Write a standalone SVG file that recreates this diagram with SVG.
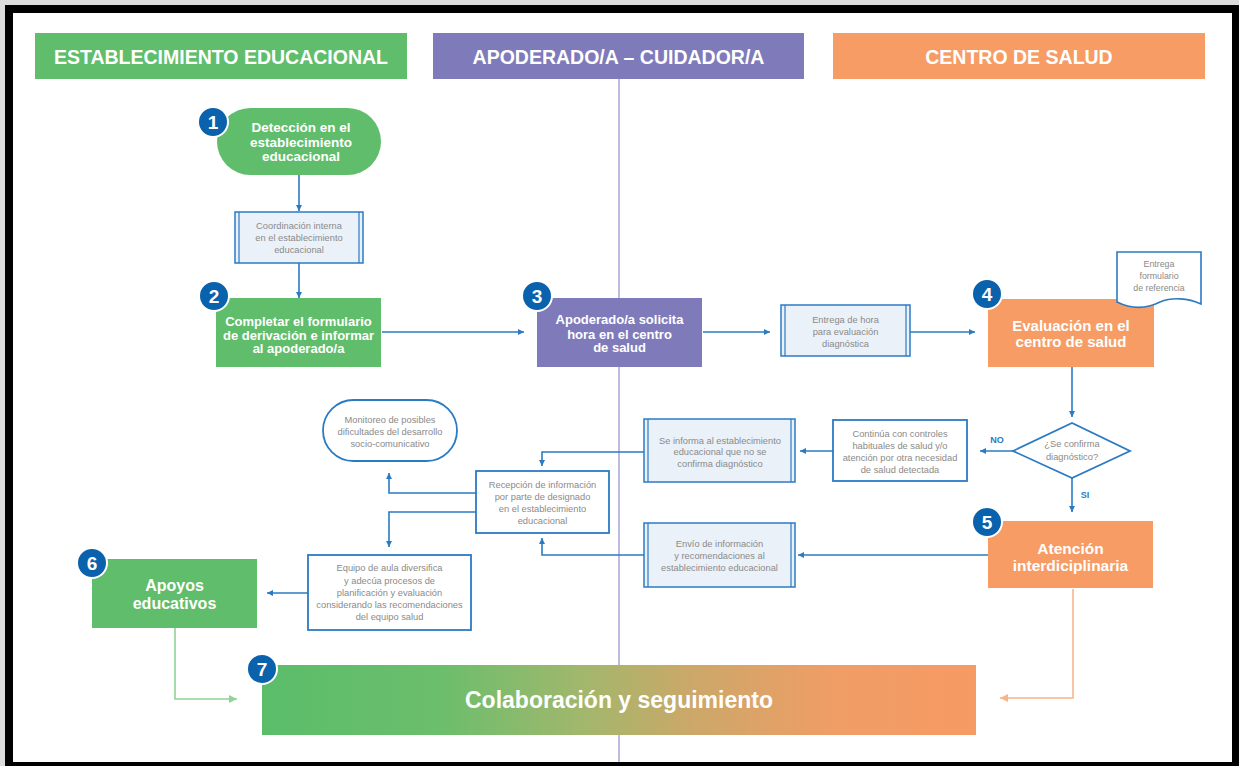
<svg xmlns="http://www.w3.org/2000/svg" width="1239" height="766" viewBox="0 0 1239 766">
<defs>
<style>
.hdr{font-family:"Liberation Sans",Arial,sans-serif;font-weight:bold;font-size:19.5px;fill:#fff;text-anchor:middle}
.nt{font-family:"Liberation Sans",Arial,sans-serif;font-weight:bold;font-size:13px;fill:#fff;text-anchor:middle}
.nt2{font-family:"Liberation Sans",Arial,sans-serif;font-weight:bold;font-size:15.5px;fill:#fff;text-anchor:middle}
.st{font-family:"Liberation Sans",Arial,sans-serif;font-size:9.3px;fill:#8a8a8a;text-anchor:middle}
.lbl{font-family:"Liberation Sans",Arial,sans-serif;font-weight:bold;font-size:9px;fill:#2B7BC3;text-anchor:middle}
.bn{font-family:"Liberation Sans",Arial,sans-serif;font-weight:bold;font-size:19px;fill:#fff;text-anchor:middle}
.badge{fill:#0A62AD;stroke:#fff;stroke-width:2}
.pp{fill:#EAF1F9;stroke:#2B7BC3;stroke-width:1.5}
.ppl{stroke:#2B7BC3;stroke-width:1.2;fill:none}
.bx{fill:#fff;stroke:#2B7BC3;stroke-width:1.8}
.con{fill:none;stroke:#2B7BC3;stroke-width:1.6;marker-end:url(#ab)}
.green{fill:#5FBD6B}
.purple{fill:#7F7BBB}
.orange{fill:#F79C65}
</style>
<marker id="ab" markerUnits="userSpaceOnUse" markerWidth="7" markerHeight="7" refX="6" refY="3" orient="auto"><path d="M0,0 L6,3 L0,6 Z" fill="#2B7BC3"/></marker>
<marker id="ag" markerUnits="userSpaceOnUse" markerWidth="9" markerHeight="9" refX="8" refY="4" orient="auto"><path d="M0,0 L8,4 L0,8 Z" fill="#8FD495"/></marker>
<marker id="ao" markerUnits="userSpaceOnUse" markerWidth="9" markerHeight="9" refX="8" refY="4" orient="auto"><path d="M0,0 L8,4 L0,8 Z" fill="#F9B48F"/></marker>
<linearGradient id="grad" x1="0" y1="0" x2="1" y2="0">
<stop offset="0" stop-color="#5BBD6A"/>
<stop offset="0.25" stop-color="#6BBE6C"/>
<stop offset="0.45" stop-color="#A2B76C"/>
<stop offset="0.6" stop-color="#CBA869"/>
<stop offset="0.8" stop-color="#F09D66"/>
<stop offset="1" stop-color="#F79A64"/>
</linearGradient>
</defs>

<rect x="0" y="0" width="1239" height="766" fill="#dcdcdc"/>
<rect x="5" y="5" width="1234" height="761" fill="#000"/>
<rect x="13" y="13" width="1219" height="749" fill="#fff"/>

<g id="lanes">
<rect x="35" y="33" width="372" height="46" class="green"/>
<text x="221" y="63.5" class="hdr">ESTABLECIMIENTO EDUCACIONAL</text>
<rect x="433" y="33" width="371" height="46" class="purple"/>
<text x="618.5" y="63.5" class="hdr">APODERADO/A – CUIDADOR/A</text>
<rect x="833" y="33" width="372" height="46" class="orange"/>
<text x="1019" y="63.5" class="hdr">CENTRO DE SALUD</text>
<line x1="619" y1="79" x2="619" y2="762" stroke="#A9A5D8" stroke-width="1.5"/>
</g>

<g id="connectors">
<path class="con" d="M299,175 V211"/>
<path class="con" d="M299,263 V298"/>
<path class="con" d="M382,332 H524"/>
<path class="con" d="M703,332 H770"/>
<path class="con" d="M910,332 H975"/>
<path class="con" d="M1072,367 V417"/>
<path class="con" d="M1013,451 H980"/>
<path class="con" d="M833,451 H800"/>
<path class="con" d="M644,452 H542 V466"/>
<path class="con" d="M476,493 H389 V473"/>
<path class="con" d="M476,512 H389 V547"/>
<path class="con" d="M308,593 H267"/>
<path class="con" d="M1072,478 V512"/>
<path class="con" d="M988,555 H798"/>
<path class="con" d="M644,555 H542 V538"/>
<path d="M175,628 V699 H237" fill="none" stroke="#8FD495" stroke-width="1.6" marker-end="url(#ag)"/>
<path d="M1073,589 V698 H1000" fill="none" stroke="#F9B48F" stroke-width="1.6" marker-end="url(#ao)"/>
<text x="997" y="442.5" class="lbl">NO</text>
<text x="1085" y="498" class="lbl">SI</text>
</g>

<g id="n1">
<rect x="217" y="108" width="164" height="67" rx="33.5" class="green"/>
<text x="301" y="132" class="nt" style="font-size:13.5px">Detección en el</text>
<text x="301" y="146.5" class="nt" style="font-size:13.5px">establecimiento</text>
<text x="301" y="161" class="nt" style="font-size:13.5px">educacional</text>
<circle cx="213" cy="122" r="15" class="badge"/>
<text x="213" y="129" class="bn">1</text>
</g>

<g id="coord">
<rect x="235" y="212" width="128" height="51" class="pp"/>
<path class="ppl" d="M239,212 V263 M359,212 V263"/>
<text x="299" y="228.5" class="st">Coordinación interna</text>
<text x="299" y="241" class="st">en el establecimiento</text>
<text x="299" y="253" class="st">educacional</text>
</g>

<g id="n2">
<rect x="216" y="298" width="165" height="69" class="green"/>
<text x="298.5" y="325.5" class="nt">Completar el formulario</text>
<text x="298.5" y="339.5" class="nt">de derivación e informar</text>
<text x="298.5" y="353" class="nt">al apoderado/a</text>
<circle cx="214" cy="296" r="15" class="badge"/>
<text x="214" y="303" class="bn">2</text>
</g>

<g id="n3">
<rect x="537" y="298" width="165" height="69" class="purple"/>
<text x="619.5" y="324" class="nt">Apoderado/a solicita</text>
<text x="619.5" y="338.5" class="nt">hora en el centro</text>
<text x="619.5" y="352" class="nt">de salud</text>
<circle cx="537" cy="296" r="15" class="badge"/>
<text x="537" y="303" class="bn">3</text>
</g>

<g id="hora">
<rect x="781" y="305" width="129" height="51" class="pp"/>
<path class="ppl" d="M785,305 V356 M906,305 V356"/>
<text x="845.5" y="323" class="st">Entrega de hora</text>
<text x="845.5" y="335" class="st">para evaluación</text>
<text x="845.5" y="346.5" class="st">diagnóstica</text>
</g>

<g id="n4">
<rect x="988" y="299" width="166" height="68" class="orange"/>
<text x="1071" y="331" class="nt2" style="font-size:15px">Evaluación en el</text>
<text x="1071" y="346.5" class="nt2" style="font-size:15px">centro de salud</text>
<circle cx="987" cy="294" r="15" class="badge"/>
<text x="987" y="301" class="bn">4</text>
</g>

<g id="doc">
<path d="M1117,252 H1201 V304 C1188,298 1172,297 1160,302 C1146,309 1131,309 1117,302 Z" fill="#fff" stroke="#2B7BC3" stroke-width="1.6"/>
<text x="1159" y="267" class="st" style="font-size:8.8px">Entrega</text>
<text x="1159" y="279" class="st" style="font-size:8.8px">formulario</text>
<text x="1159" y="290.5" class="st" style="font-size:8.8px">de referencia</text>
</g>

<g id="decision">
<path d="M1013,451 L1072,423 L1130,451 L1072,478 Z" fill="#fff" stroke="#2B7BC3" stroke-width="1.8"/>
<text x="1072" y="446.5" class="st">¿Se confirma</text>
<text x="1072" y="459.5" class="st">diagnóstico?</text>
</g>

<g id="continua">
<rect x="833" y="420" width="134" height="61" class="bx"/>
<text x="900" y="436.5" class="st">Continúa con controles</text>
<text x="900" y="448.5" class="st">habituales de salud y/o</text>
<text x="900" y="460.5" class="st">atención por otra necesidad</text>
<text x="900" y="472.5" class="st">de salud detectada</text>
</g>

<g id="seinforma">
<rect x="644" y="419" width="151" height="63" class="pp"/>
<path class="ppl" d="M648,419 V482 M791,419 V482"/>
<text x="720" y="443.5" class="st">Se informa al establecimiento</text>
<text x="720" y="455" class="st">educacional que no se</text>
<text x="720" y="466.5" class="st">confirma diagnóstico</text>
</g>

<g id="recepcion">
<rect x="476" y="471" width="133" height="62" class="bx"/>
<text x="542.5" y="488" class="st">Recepción de información</text>
<text x="542.5" y="500" class="st">por parte de designado</text>
<text x="542.5" y="512" class="st">en el establecimiento</text>
<text x="542.5" y="523.5" class="st">educacional</text>
</g>

<g id="monitoreo">
<rect x="323" y="400" width="134" height="61" rx="30.5" class="bx"/>
<text x="390" y="422.5" class="st">Monitoreo de posibles</text>
<text x="390" y="434.5" class="st">dificultades del desarrollo</text>
<text x="390" y="446.5" class="st">socio-comunicativo</text>
</g>

<g id="equipo">
<rect x="308" y="555" width="163" height="75" class="bx"/>
<text x="389.5" y="571" class="st">Equipo de aula diversifica</text>
<text x="389.5" y="583.5" class="st">y adecúa procesos de</text>
<text x="389.5" y="595.5" class="st">planificación y evaluación</text>
<text x="389.5" y="608" class="st">considerando las recomendaciones</text>
<text x="389.5" y="620" class="st">del equipo salud</text>
</g>

<g id="envio">
<rect x="644" y="523" width="151" height="64" class="pp"/>
<path class="ppl" d="M648,523 V587 M791,523 V587"/>
<text x="719.5" y="546.5" class="st">Envío de información</text>
<text x="719.5" y="558.5" class="st">y recomendaciones al</text>
<text x="719.5" y="570.5" class="st">establecimiento educacional</text>
</g>

<g id="n5">
<rect x="988" y="521" width="165" height="67" class="orange"/>
<text x="1070.5" y="553.5" class="nt2">Atención</text>
<text x="1070.5" y="570.5" class="nt2">interdiciplinaria</text>
<circle cx="987" cy="522" r="15" class="badge"/>
<text x="987" y="529" class="bn">5</text>
</g>

<g id="n6">
<rect x="92" y="559" width="165" height="69" class="green"/>
<text x="174.5" y="591" class="nt2" style="font-size:16px">Apoyos</text>
<text x="174.5" y="609" class="nt2" style="font-size:16px">educativos</text>
<circle cx="92" cy="563" r="15" class="badge"/>
<text x="92" y="570" class="bn">6</text>
</g>

<g id="n7">
<rect x="262" y="665" width="714" height="70" fill="url(#grad)"/>
<text x="619" y="708" class="nt2" style="font-size:23px">Colaboración y seguimiento</text>
<circle cx="262" cy="669" r="15" class="badge"/>
<text x="262" y="676" class="bn">7</text>
</g>
</svg>
